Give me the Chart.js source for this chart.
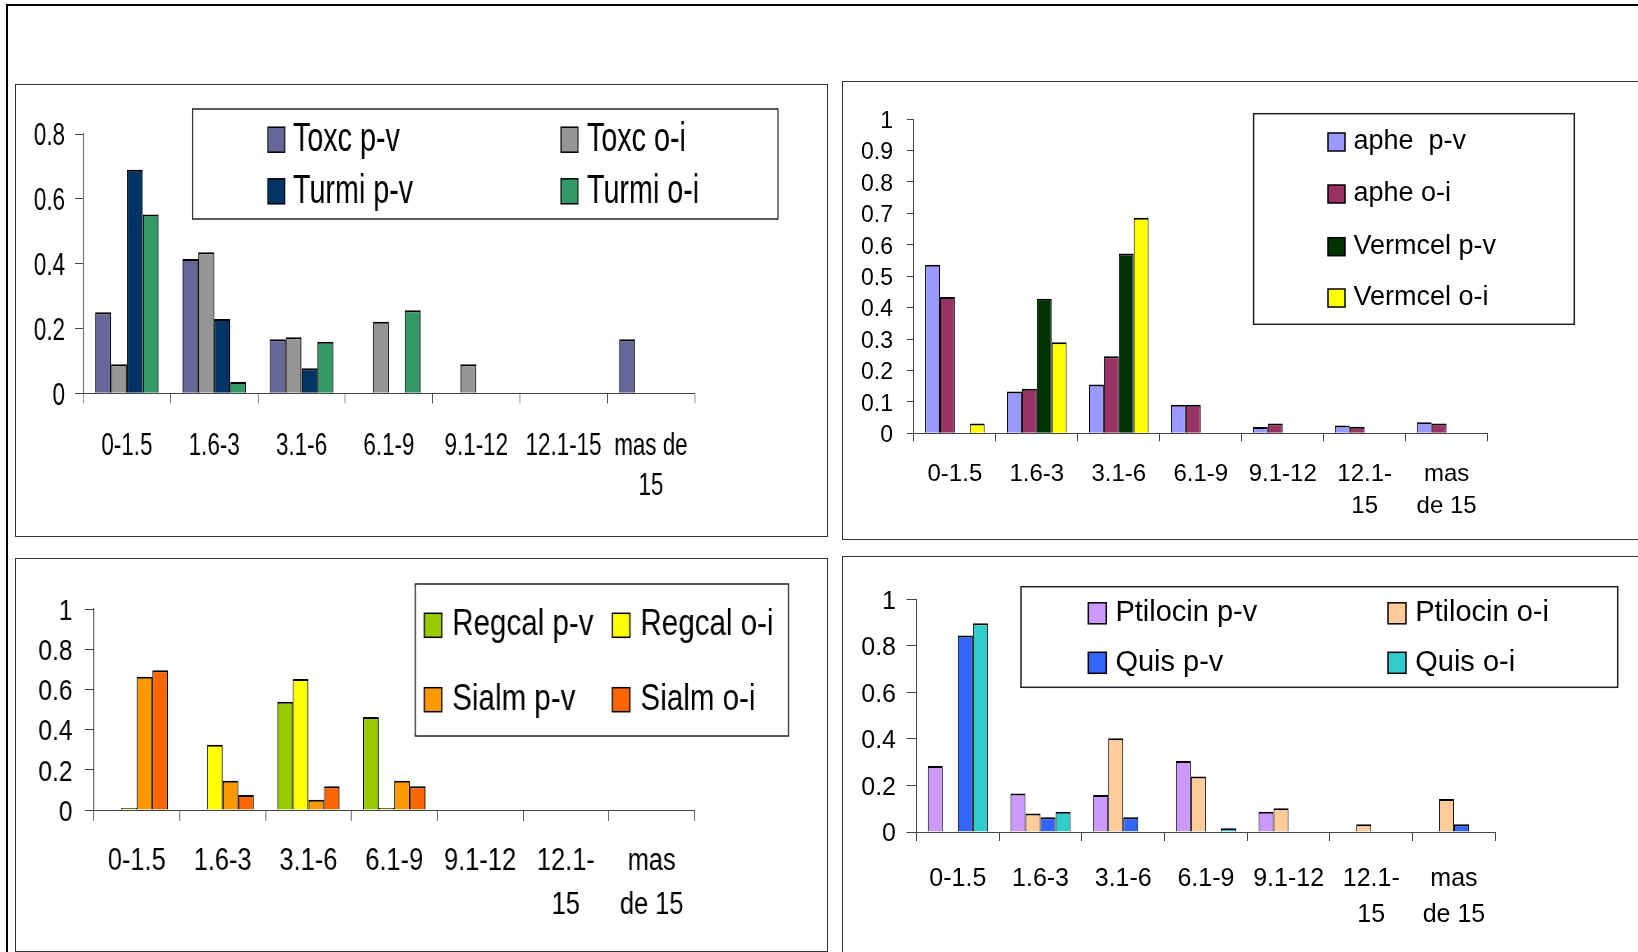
<!DOCTYPE html>
<html><head><meta charset="utf-8">
<script src="https://cdn.jsdelivr.net/npm/chart.js@4.4.1/dist/chart.umd.min.js"></script>
<style>
html,body{margin:0;padding:0;background:#fff;width:1638px;height:952px;overflow:hidden;position:relative}
.frame{position:absolute;border:2px solid #000;box-sizing:border-box}
.panel{position:absolute;border:1.5px solid #333;box-sizing:border-box}
canvas{position:absolute;transform-origin:0 0}
</style></head><body>
<div class="frame" style="left:6px;top:4px;width:1700px;height:1000px"></div>
<div class="panel" style="left:15px;top:84px;width:813px;height:453px"></div>
<div class="panel" style="left:842px;top:81px;width:900px;height:459px"></div>
<div class="panel" style="left:15px;top:558px;width:813px;height:394px"></div>
<div class="panel" style="left:842px;top:556px;width:900px;height:500px"></div>
<script>
// ---------- data ----------
const categoriesA = ['0-1.5', '1.6-3', '3.1-6', '6.1-9', '9.1-12', '12.1-15', ['mas de', '15']];
const categoriesB = ['0-1.5', '1.6-3', '3.1-6', '6.1-9', '9.1-12', ['12.1-', '15'], ['mas', 'de 15']];

const yTicks08 = ['0', '0.2', '0.4', '0.6', '0.8'];
const yTicks1by01 = ['0', '0.1', '0.2', '0.3', '0.4', '0.5', '0.6', '0.7', '0.8', '0.9', '1'];
const yTicks1by02 = ['0', '0.2', '0.4', '0.6', '0.8', '1'];

// panel 1
const toxcPV  = [0.25, 0.414, 0.167, 0, 0, 0, 0.167];
const toxcOI  = [0.09, 0.435, 0.173, 0.221, 0.09, 0, 0];
const turmiPV = [0.69, 0.229, 0.077, 0, 0, 0, 0];
const turmiOI = [0.552, 0.035, 0.159, 0.256, 0, 0, 0];
// panel 2
const aphePV = [0.536, 0.133, 0.155, 0.091, 0.02, 0.025, 0.035];
const apheOI = [0.434, 0.142, 0.245, 0.091, 0.031, 0.021, 0.031];
const vermPV = [0, 0.428, 0.572, 0, 0, 0, 0];
const vermOI = [0.031, 0.29, 0.686, 0, 0, 0, 0];
// panel 3
const regcalPV = [0, 0, 0.539, 0.463, 0, 0, 0];
const regcalOI = [0.01, 0.325, 0.652, 0.01, 0, 0, 0];
const sialmPV  = [0.663, 0.146, 0.051, 0.146, 0, 0, 0];
const sialmOI  = [0.695, 0.075, 0.118, 0.118, 0, 0, 0];
// panel 4
const ptilPV = [0.284, 0.165, 0.159, 0.305, 0.087, 0, 0];
const ptilOI = [0, 0.079, 0.403, 0.238, 0.102, 0.033, 0.142];
const quisPV = [0.844, 0.063, 0.063, 0, 0, 0, 0.033];
const quisOI = [0.897, 0.087, 0, 0.016, 0, 0, 0];

// ---------- rendering ----------
const FF = "'Liberation Sans', Arial, Helvetica, sans-serif";
const AX = '#444';
const Y_SHIFT = 2.5;   // small downward nudge of y tick labels
const X_SHIFT = 3;     // small downward nudge of x tick labels

const boxLegendPlugin = {
  id: 'boxLegend',
  afterDraw(chart, args, o) {
    const ctx = chart.ctx;
    ctx.save();
    ctx.fillStyle = '#fff';
    ctx.fillRect(o.x0, o.y0, o.x1 - o.x0, o.y1 - o.y0);
    ctx.strokeStyle = '#222';
    ctx.lineWidth = o.lw;
    ctx.strokeRect(o.x0, o.y0, o.x1 - o.x0, o.y1 - o.y0);
    chart.data.datasets.forEach((ds, i) => {
      const c = i % o.cols, r = Math.floor(i / o.cols);
      const cy = o.rows[r];
      ctx.fillStyle = ds.backgroundColor;
      ctx.fillRect(o.mx[c], cy - o.mh / 2, o.mw, o.mh);
      ctx.strokeStyle = '#000';
      ctx.lineWidth = 1.5;
      ctx.strokeRect(o.mx[c], cy - o.mh / 2, o.mw, o.mh);
      ctx.fillStyle = '#000';
      ctx.font = o.font + 'px ' + FF;
      ctx.textBaseline = 'middle';
      ctx.textAlign = 'left';
      ctx.fillText(ds.label, o.tx[c], cy);
    });
    ctx.restore();
  }
};

function makePanel(cfg) {
  const s = cfg.s;
  const cw = Math.round(cfg.w / s), ch = cfg.h;
  const canvas = document.createElement('canvas');
  canvas.width = cw; canvas.height = ch;
  canvas.style.left = cfg.x + 'px';
  canvas.style.top = cfg.y + 'px';
  canvas.style.width = cw + 'px';
  canvas.style.height = ch + 'px';
  canvas.style.transform = 'scaleX(' + s + ')';
  document.body.appendChild(canvas);
  const X = v => (v - cfg.x) / s, Y = v => v - cfg.y;
  const caL = X(cfg.axisX), caR = X(cfg.axisEnd), caT = Y(cfg.topY), caB = Y(cfg.zeroY);
  const yTickLen = cfg.yTick / s;
  const L = cfg.legend;
  new Chart(canvas, {
    type: 'bar',
    data: {
      labels: cfg.labels,
      datasets: cfg.series.map(ser => ({
        label: ser.label, data: ser.data, backgroundColor: ser.color,
        borderColor: '#000',
        borderWidth: {top: 2, left: 1 / s, right: 1 / s, bottom: 0},
        borderSkipped: false,
        categoryPercentage: 4 / 5.5, barPercentage: 1
      }))
    },
    options: {
      responsive: false, animation: false, devicePixelRatio: 1,
      layout: {padding: {left: 0, top: caT, right: cw - caR, bottom: 0}},
      plugins: {
        legend: {display: false}, tooltip: {enabled: false},
        boxLegend: {
          x0: X(L.box[0]), y0: Y(L.box[1]), x1: X(L.box[2]), y1: Y(L.box[3]),
          lw: 1.5, cols: L.cols,
          mx: L.mx.map(X), mw: L.mw / s, mh: L.mh,
          rows: L.rows.map(Y), tx: L.tx.map(X), font: L.font
        }
      },
      scales: {
        x: {
          grid: {offset: true, drawOnChartArea: false, drawTicks: true, tickLength: cfg.xTick, color: AX, lineWidth: 1},
          border: {display: true, color: AX, width: 1},
          ticks: {
            color: '#000', autoSkip: false, maxRotation: 0, minRotation: 0,
            font: {family: FF, size: cfg.xFont, lineHeight: cfg.xLH / cfg.xFont},
            padding: cfg.xFirst + X_SHIFT - cfg.zeroY - cfg.xTick - cfg.xLH / 2
          },
          afterFit: sc => { sc.height = ch - caB; }
        },
        y: {
          min: 0, max: cfg.yMax,
          grid: {drawOnChartArea: false, drawTicks: true, tickLength: yTickLen, color: AX, lineWidth: 1},
          border: {display: true, color: AX, width: 1 / s},
          ticks: {
            stepSize: cfg.yStep, color: '#000', autoSkip: false,
            font: {family: FF, size: cfg.yFont, lineHeight: (2 * Y_SHIFT) + 'px'},
            padding: caL - yTickLen - X(cfg.yLabelRight),
            callback: (v, i) => ['', cfg.yLabels[i]]
          },
          afterFit: sc => { sc.width = caL; }
        }
      }
    },
    plugins: [boxLegendPlugin]
  });
}

makePanel({
  x: 17, y: 86, w: 809, h: 449, s: 0.7,
  labels: categoriesA, yLabels: yTicks08, yMax: 0.8, yStep: 0.2,
  axisX: 83.2, axisEnd: 694.6, topY: 134, zeroY: 393.3,
  yTick: 8, yLabelRight: 65, yFont: 32,
  xFont: 32, xLH: 40, xFirst: 443, xTick: 10,
  series: [
    {label: 'Toxc p-v', data: toxcPV, color: '#666699'},
    {label: 'Toxc o-i', data: toxcOI, color: '#969696'},
    {label: 'Turmi p-v', data: turmiPV, color: '#003366'},
    {label: 'Turmi o-i', data: turmiOI, color: '#339966'}
  ],
  legend: {box: [192.5, 109, 778, 219], cols: 2, mx: [267.8, 561], mw: 17, mh: 25,
           rows: [139.7, 191.3], tx: [293, 587], font: 41}
});

makePanel({
  x: 844, y: 83, w: 800, h: 455, s: 1,
  labels: categoriesB, yLabels: yTicks1by01, yMax: 1, yStep: 0.1,
  axisX: 913.9, axisEnd: 1487.6, topY: 119, zeroY: 433.3,
  yTick: 7, yLabelRight: 893, yFont: 23,
  xFont: 24, xLH: 31.7, xFirst: 471.5, xTick: 8,
  series: [
    {label: 'aphe  p-v', data: aphePV, color: '#9999FF'},
    {label: 'aphe o-i', data: apheOI, color: '#993366'},
    {label: 'Vermcel p-v', data: vermPV, color: '#003300'},
    {label: 'Vermcel o-i', data: vermOI, color: '#FFFF00'}
  ],
  legend: {box: [1253.6, 113.7, 1574.3, 324.3], cols: 1, mx: [1328], mw: 17, mh: 18,
           rows: [142, 194, 246.7, 298], tx: [1353.5], font: 27}
});

makePanel({
  x: 17, y: 560, w: 809, h: 390, s: 0.82,
  labels: categoriesB, yLabels: yTicks1by02, yMax: 1, yStep: 0.2,
  axisX: 93.9, axisEnd: 694.6, topY: 609, zeroY: 810,
  yTick: 9, yLabelRight: 72.6, yFont: 30,
  xFont: 31, xLH: 43.7, xFirst: 858.8, xTick: 11,
  series: [
    {label: 'Regcal p-v', data: regcalPV, color: '#99CC00'},
    {label: 'Regcal o-i', data: regcalOI, color: '#FFFF00'},
    {label: 'Sialm p-v', data: sialmPV, color: '#FF9900'},
    {label: 'Sialm o-i', data: sialmOI, color: '#FF6600'}
  ],
  legend: {box: [415.2, 584, 788.4, 736], cols: 2, mx: [424.2, 612.4], mw: 17.5, mh: 24,
           rows: [625.3, 699.7], tx: [452.3, 640.5], font: 36}
});

makePanel({
  x: 844, y: 558, w: 800, h: 394, s: 1,
  labels: categoriesB, yLabels: yTicks1by02, yMax: 1, yStep: 0.2,
  axisX: 916.5, axisEnd: 1495.3, topY: 599.3, zeroY: 832,
  yTick: 10, yLabelRight: 896, yFont: 25,
  xFont: 25, xLH: 36.7, xFirst: 875.8, xTick: 9,
  series: [
    {label: 'Ptilocin p-v', data: ptilPV, color: '#CC99FF'},
    {label: 'Ptilocin o-i', data: ptilOI, color: '#FFCC99'},
    {label: 'Quis p-v', data: quisPV, color: '#3366FF'},
    {label: 'Quis o-i', data: quisOI, color: '#33CCCC'}
  ],
  legend: {box: [1021, 586.7, 1617.7, 687.3], cols: 2, mx: [1088.3, 1388], mw: 18, mh: 21,
           rows: [613.3, 662.8], tx: [1115.4, 1415.2], font: 29}
});
</script>
</body></html>
